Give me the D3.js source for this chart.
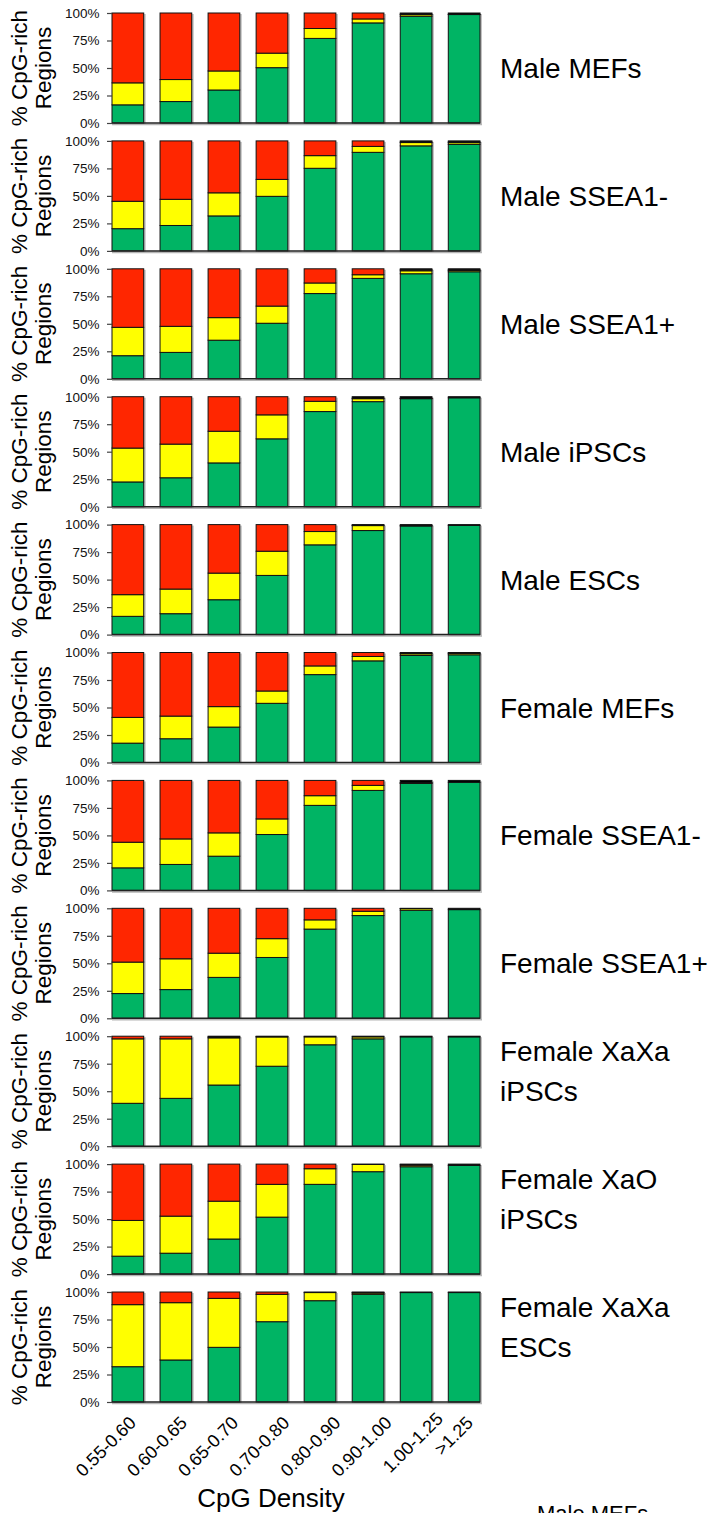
<!DOCTYPE html>
<html>
<head>
<meta charset="utf-8">
<title>CpG-rich regions by CpG density</title>
<script src="https://d3js.org/d3.v7.min.js"></script>
<style>
  body { margin: 0; background: #fff; }
  svg { display: block; font-family: "Liberation Sans", Arial, Helvetica, sans-serif; }
</style>
</head>
<body>
<svg id="chart"></svg>
<script>
// CpG density bins on the x axis
var categories = ["0.55-0.60", "0.60-0.65", "0.65-0.70", "0.70-0.80", "0.80-0.90", "0.90-1.00", "1.00-1.25", ">1.25"];

// one panel per sample, label lines on the right
var panelLabels = [
  ["Male MEFs"],
  ["Male SSEA1-"],
  ["Male SSEA1+"],
  ["Male iPSCs"],
  ["Male ESCs"],
  ["Female MEFs"],
  ["Female SSEA1-"],
  ["Female SSEA1+"],
  ["Female XaXa", "iPSCs"],
  ["Female XaO", "iPSCs"],
  ["Female XaXa", "ESCs"]
];

var seriesKeys = ["green", "yellow", "red", "black"];
var seriesColors = ["#00b464", "#ffff00", "#ff2600", "#000000"];

// % of regions per bin (rows = panels, cols = categories)
var greenPct = [
  [16.5, 19.5, 30.0, 50.3, 76.9, 91.0, 97.0, 98.6],
  [20.2, 23.1, 31.8, 49.6, 75.1, 89.6, 95.5, 96.8],
  [21.0, 24.0, 35.1, 50.5, 77.5, 91.3, 95.5, 97.3],
  [22.5, 26.3, 39.8, 61.7, 86.5, 95.5, 98.2, 99.0],
  [16.6, 19.0, 31.7, 53.8, 81.6, 94.6, 98.8, 99.2],
  [17.6, 21.6, 32.2, 53.8, 79.9, 92.4, 97.3, 97.9],
  [20.5, 23.6, 31.1, 50.8, 77.3, 90.9, 97.3, 98.3],
  [22.5, 26.1, 37.2, 55.3, 81.1, 93.4, 98.2, 98.8],
  [39.0, 43.5, 55.6, 72.7, 92.2, 97.6, 99.4, 99.4],
  [16.3, 19.0, 31.9, 51.8, 81.6, 93.1, 97.6, 98.8],
  [32.1, 38.2, 49.7, 73.0, 92.1, 97.9, 99.5, 99.5]
];

var yellowPct = [
  [20.0, 20.0, 17.3, 13.2, 9.0, 3.6, 1.5, 0.2],
  [24.9, 23.8, 21.0, 15.4, 11.5, 5.4, 3.0, 1.6],
  [25.8, 23.7, 20.5, 15.6, 9.6, 3.3, 2.7, 1.2],
  [30.8, 30.6, 28.8, 21.8, 9.3, 2.7, 0.3, 0.0],
  [19.7, 22.4, 24.2, 22.0, 12.1, 4.5, 0.2, 0.0],
  [23.4, 20.6, 18.6, 11.2, 7.9, 4.0, 1.5, 1.3],
  [23.3, 23.2, 21.2, 14.2, 8.8, 4.6, 0.3, 0.0],
  [28.6, 28.0, 22.0, 17.1, 8.4, 3.9, 1.5, 0.0],
  [58.6, 54.1, 42.9, 26.7, 7.2, 1.8, 0.0, 0.0],
  [32.5, 33.7, 34.4, 29.8, 14.2, 6.6, 1.4, 0.0],
  [56.4, 52.1, 44.5, 24.9, 7.4, 1.2, 0.0, 0.0]
];

var redPct = [
  [63.5, 60.5, 52.7, 36.5, 14.1, 5.4, 0.5, 0.0],
  [54.9, 53.1, 47.2, 35.0, 13.4, 5.0, 0.5, 0.6],
  [53.2, 52.3, 44.4, 33.9, 12.9, 5.4, 1.0, 0.5],
  [46.7, 43.1, 31.4, 16.5, 4.2, 0.5, 0.1, 0.0],
  [63.7, 58.6, 44.1, 24.2, 6.3, 0.4, 0.0, 0.0],
  [59.0, 57.8, 49.2, 35.0, 12.2, 3.6, 0.5, 0.3],
  [56.2, 53.2, 47.7, 35.0, 13.9, 4.5, 0.3, 0.0],
  [48.9, 45.9, 40.8, 27.6, 10.5, 2.7, 0.1, 0.0],
  [2.4, 2.4, 0.8, 0.1, 0.0, 0.0, 0.0, 0.0],
  [51.2, 47.3, 33.7, 18.4, 4.2, 0.0, 0.5, 0.0],
  [11.5, 9.7, 5.8, 2.1, 0.0, 0.4, 0.0, 0.0]
];

var blackPct = [
  [0, 0, 0, 0, 0, 0, 1.0, 1.2],
  [0, 0, 0, 0, 0, 0, 1.0, 1.0],
  [0, 0, 0, 0, 0, 0, 0.8, 1.0],
  [0, 0, 0, 0, 0, 1.3, 1.4, 1.0],
  [0, 0, 0, 0, 0, 0.5, 1.0, 0.8],
  [0, 0, 0, 0, 0, 0, 0.7, 0.5],
  [0, 0, 0, 0, 0, 0, 2.1, 1.7],
  [0, 0, 0, 0, 0, 0, 0.2, 1.2],
  [0, 0, 0.7, 0.5, 0.6, 0.6, 0.6, 0.6],
  [0, 0, 0, 0, 0, 0.3, 0.5, 1.2],
  [0, 0, 0, 0, 0.5, 0.5, 0.5, 0.5]
];

var yTicks = [0, 0.25, 0.5, 0.75, 1];

var svgWidth = 712;
var svgHeight = 1513;

var svg = d3.select("#chart")
  .attr("width", svgWidth)
  .attr("height", svgHeight);

svg.append("rect")
  .attr("width", svgWidth)
  .attr("height", svgHeight)
  .attr("fill", "#fff");

// bars inside a panel
var xScale = d3.scaleBand()
  .domain(categories)
  .range([112, 480])
  .paddingInner(0.34)
  .paddingOuter(0);

// panels stacked top to bottom
var panelScale = d3.scaleBand()
  .domain(d3.range(panelLabels.length))
  .range([13, 1402])
  .paddingInner(0.14)
  .paddingOuter(0);

var stack = d3.stack()
  .keys(seriesKeys)
  .offset(d3.stackOffsetExpand);

panelLabels.forEach(function (label, i) {
  var top = panelScale(i);
  var h = panelScale.bandwidth();
  var mid = top + h / 2;

  var yScale = d3.scaleLinear()
    .domain([0, 1])
    .range([top + h, top]);

  var rows = categories.map(function (c, j) {
    return {
      cat: c,
      green: greenPct[i][j],
      yellow: yellowPct[i][j],
      red: redPct[i][j],
      black: blackPct[i][j]
    };
  });

  var layers = stack(rows);
  var g = svg.append("g").attr("class", "panel");

  // soft grey drop shadow behind each bar
  g.selectAll(".shadow")
    .data(rows)
    .enter()
    .append("rect")
    .attr("class", "shadow")
    .attr("x", function (d) { return xScale(d.cat) + 2; })
    .attr("y", yScale(1) + 1)
    .attr("width", xScale.bandwidth())
    .attr("height", yScale(0) - yScale(1))
    .attr("fill", "#c2c2c2");

  // x axis line
  g.append("line")
    .attr("x1", xScale.range()[0])
    .attr("x2", xScale.range()[1] + 2)
    .attr("y1", yScale(0) + 1.5)
    .attr("y2", yScale(0) + 1.5)
    .attr("stroke", "#b5b5b5")
    .attr("stroke-width", 1.5);

  layers.forEach(function (layer, k) {
    g.selectAll(".seg-" + k)
      .data(layer.filter(function (d) { return d[1] - d[0] > 0.0004; }))
      .enter()
      .append("rect")
      .attr("class", "seg-" + k)
      .attr("x", function (d) { return xScale(d.data.cat); })
      .attr("y", function (d) { return yScale(d[1]); })
      .attr("width", xScale.bandwidth())
      .attr("height", function (d) { return yScale(d[0]) - yScale(d[1]); })
      .attr("fill", seriesColors[k])
      .attr("stroke", "#111")
      .attr("stroke-width", 1);
  });

  g.append("line")
    .attr("x1", xScale.range()[0])
    .attr("x2", xScale.range()[1])
    .attr("y1", yScale(0))
    .attr("y2", yScale(0))
    .attr("stroke", "#222")
    .attr("stroke-width", 1.5);

  // y axis
  var yAxis = g.append("g")
    .attr("transform", "translate(" + xScale.range()[0] + ",0)")
    .call(d3.axisLeft(yScale)
      .tickValues(yTicks)
      .tickFormat(d3.format(".0%"))
      .tickSize(5)
      .tickPadding(7.5));

  yAxis.select(".domain").remove();
  yAxis.selectAll(".tick line").attr("stroke", "#444").attr("stroke-width", 1.2);
  yAxis.selectAll(".tick text")
    .attr("fill", "#111")
    .style("font-size", "13.5px")
    .style("font-family", "'Liberation Sans', Arial, sans-serif");

  // y axis title
  var yTitle = ["% CpG-rich", "Regions"];
  yTitle.forEach(function (line, n) {
    g.append("text")
      .attr("transform", "translate(" + (27 + n * 23.5) + "," + mid + ") rotate(-90)")
      .attr("text-anchor", "middle")
      .style("font-size", "22.5px")
      .attr("fill", "#000")
      .text(line);
  });

  // sample label on the right
  label.forEach(function (line, n) {
    var base = label.length === 1 ? mid + 10 : mid - 30 + n * 40;
    g.append("text")
      .attr("x", 500)
      .attr("y", base)
      .style("font-size", "28px")
      .attr("fill", "#000")
      .text(line);
  });
});

// x tick labels under the last panel
var lastBottom = panelScale(panelLabels.length - 1) + panelScale.bandwidth();
var labelX = d3.scalePoint()
  .domain(categories.slice(0, 7))
  .range([137, 444]);

svg.append("g")
  .selectAll("text")
  .data(categories)
  .enter()
  .append("text")
  .attr("transform", function (d, j) {
    var x = j < 7 ? labelX(d) : xScale(d) + xScale.bandwidth() / 2 + 10;
    var y = lastBottom + (j === 6 ? 18 : 22);
    return "translate(" + x + "," + y + ") rotate(-45)";
  })
  .attr("text-anchor", "end")
  .style("font-size", "18px")
  .attr("fill", "#000")
  .text(function (d) { return d; });

svg.append("text")
  .attr("x", 271)
  .attr("y", 1507)
  .attr("text-anchor", "middle")
  .style("font-size", "26px")
  .attr("fill", "#000")
  .text("CpG Density");

// cut-off legend text at the very bottom
svg.append("text")
  .attr("x", 537)
  .attr("y", 1521)
  .style("font-size", "22px")
  .attr("fill", "#000")
  .text("Male MEFs");
</script>
</body>
</html>
